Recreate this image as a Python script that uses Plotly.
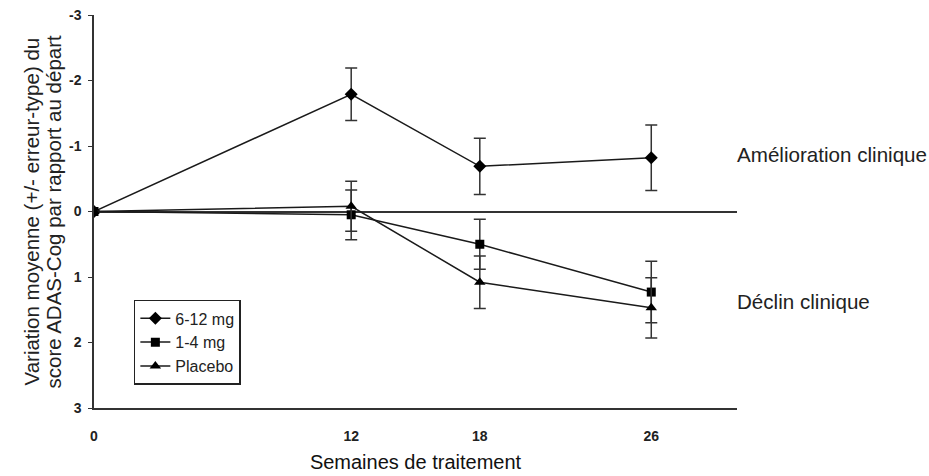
import plotly.graph_objects as go

weeks = [0, 12, 18, 26]
series_names = ["6-12 mg", "1-4 mg", "Placebo"]
vals_high = [0, -1.79, -0.69, -0.82]
err_high = [0, 0.40, 0.43, 0.50]
vals_low = [0, 0.05, 0.50, 1.23]
err_low = [0, 0.38, 0.38, 0.47]
vals_placebo = [0, -0.08, 1.08, 1.47]
err_placebo = [0, 0.38, 0.40, 0.46]
symbols = ["diamond", "square", "triangle-up"]
y_ticks = [-3, -2, -1, 0, 1, 2, 3]
y_title_lines = ["Variation moyenne (+/- erreur-type) du", "score ADAS-Cog par rapport au départ"]

FONT = "Liberation Sans, Arial, sans-serif"

fig = go.Figure()
for name, v, e, sym, sz in zip(series_names, [vals_high, vals_low, vals_placebo],
                               [err_high, err_low, err_placebo], symbols, [10, 9, 10]):
    fig.add_trace(go.Scatter(
        x=weeks, y=v, name=name, mode="lines+markers",
        line=dict(color="#1a1a1a", width=1.5),
        marker=dict(symbol=sym, size=sz, color="black"),
        error_y=dict(type="data", array=e, visible=True, color="#333333",
                     thickness=1.5, width=6),
    ))

fig.update_layout(
    width=929, height=476,
    margin=dict(l=94, r=192, t=15, b=68),
    paper_bgcolor="white", plot_bgcolor="white",
    font=dict(family=FONT, color="#222"),
    showlegend=True,
    legend=dict(x=0.062, y=0.275, xanchor="left", yanchor="top",
                bordercolor="#222", borderwidth=1.5, bgcolor="white",
                font=dict(size=16, color="#222"), itemwidth=30),
    xaxis=dict(range=[0, 30], tickvals=weeks, ticktext=[str(w) for w in weeks],
               showline=True, linecolor="#333", linewidth=1.5, showgrid=False,
               zeroline=False, ticks="", ticklabelstandoff=14, automargin=False,
               tickfont=dict(size=14, color="#222", weight="bold"),
               title=dict(text="Semaines de traitement", font=dict(size=20, color="#111"),
                          standoff=12)),
    yaxis=dict(range=[3, -3], tickvals=y_ticks, ticktext=[str(t) for t in y_ticks],
               showline=True, linecolor="#333", linewidth=1.5, showgrid=False,
               zeroline=True, zerolinecolor="#333", zerolinewidth=1.5, automargin=False,
               ticks="outside", ticklen=4, tickcolor="#333", ticklabelstandoff=4,
               tickfont=dict(size=14, color="#222", weight="bold")),
)

for line, xpos in zip(y_title_lines, [31, 53]):
    fig.add_annotation(x=0, y=0.5, xref="paper", yref="paper", xanchor="center", yanchor="middle",
                       text=line, textangle=-90, showarrow=False, xshift=xpos - 94,
                       font=dict(size=20.5, color="#222"))

fig.add_annotation(x=1.0, y=-0.87, xref="paper", yref="y", xanchor="left", yanchor="middle",
                   text="Amélioration clinique", showarrow=False, xshift=-2,
                   font=dict(size=20.6, color="#222"))
fig.add_annotation(x=1.0, y=1.37, xref="paper", yref="y", xanchor="left", yanchor="middle",
                   text="Déclin clinique", showarrow=False, xshift=-2,
                   font=dict(size=20.6, color="#222"))

fig.write_html("out.html")
